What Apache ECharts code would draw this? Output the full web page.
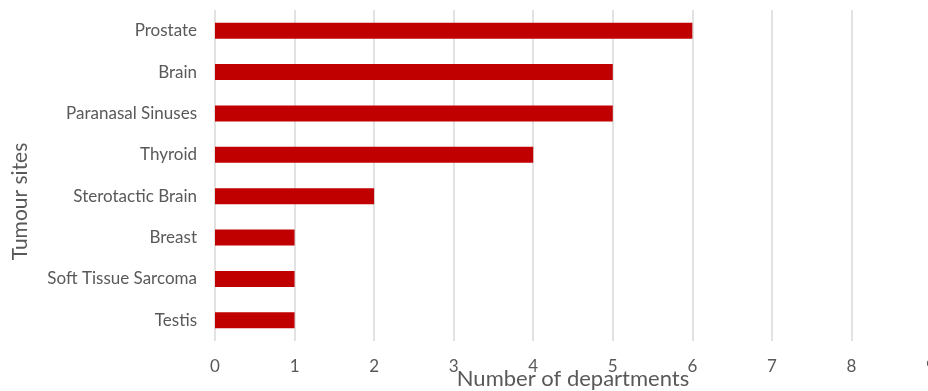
<!DOCTYPE html>
<html>
<head>
<meta charset="utf-8">
<script src="https://cdn.jsdelivr.net/npm/echarts@6/dist/echarts.min.js"></script>
<style>
  html, body { margin: 0; padding: 0; background: #fff; }
  #chart { width: 928px; height: 391px; }
</style>
</head>
<body>
<div id="chart"></div>
<script>
// tumour sites, top to bottom
const sites = ["Prostate", "Brain", "Paranasal Sinuses", "Thyroid", "Sterotactic Brain", "Breast", "Soft Tissue Sarcoma", "Testis"];
const departments = [6, 5, 5, 4, 2, 1, 1, 1];

const textColor = "#595959";
const fontFamily = "Lato, 'Open Sans', sans-serif";

const chart = echarts.init(document.getElementById("chart"), null, { renderer: "canvas" });

chart.setOption({
  animation: false,
  backgroundColor: "#fff",
  // plot runs a bit past the right edge, so the "9" is clipped like the original
  grid: { left: 215, width: 716, top: 10, bottom: 50, containLabel: false, outerBoundsMode: "none" },
  xAxis: {
    type: "value",
    min: 0,
    max: 9,
    interval: 1,
    name: "Number of departments",
    nameLocation: "middle",
    nameGap: 27,
    nameMoveOverlap: false,
    nameTextStyle: { color: textColor, fontSize: 22, fontFamily: fontFamily },
    axisLine: { show: false },
    axisTick: { show: false },
    axisLabel: { color: textColor, fontSize: 17, fontFamily: fontFamily, margin: 17 },
    splitLine: { show: true, lineStyle: { color: "#d9d9d9", width: 1.5 } }
  },
  yAxis: {
    type: "category",
    data: sites,
    inverse: true,
    name: "Tumour sites",
    nameLocation: "middle",
    nameGap: 184,
    nameMoveOverlap: false,
    nameRotate: 90,
    nameTextStyle: { color: textColor, fontSize: 21, fontFamily: fontFamily, padding: [0, 52, 0, 0] },
    axisLine: { show: false },
    axisTick: { show: false },
    axisLabel: { color: textColor, fontSize: 17, fontFamily: fontFamily, margin: 18 },
    splitLine: { show: false }
  },
  series: [{
    type: "bar",
    data: departments,
    barWidth: 16,
    itemStyle: { color: "#C00000" }
  }]
});
</script>
</body>
</html>
